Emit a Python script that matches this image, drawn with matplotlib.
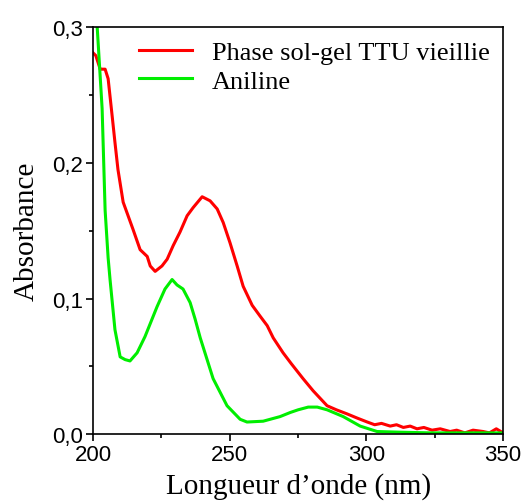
import matplotlib
matplotlib.use('Agg')
import matplotlib.pyplot as plt
from matplotlib.ticker import MultipleLocator, FuncFormatter

# spectres
wl_red = [200.0, 201.0, 202.6, 204.4, 205.5, 207.0, 208.0, 209.1, 211.0, 212.8, 214.6,
          217.2, 219.8, 220.9, 222.7, 225.2, 227.1, 229.3, 231.8, 234.4, 236.6, 239.9,
          242.8, 245.4, 247.6, 250.1, 252.7, 254.9, 258.2, 261.1, 263.7, 265.9, 269.5,
          272.5, 276.8, 280.5, 285.6, 289.0, 292.9, 296.5, 300.3, 303.0, 305.5, 308.7,
          311.0, 313.5, 316.0, 318.5, 321.0, 324.0, 327.0, 330.6, 333.0, 336.0, 339.0,
          342.7, 345.0, 347.5, 350.0]
abs_red = [0.281, 0.279, 0.269, 0.269, 0.262, 0.234, 0.215, 0.195, 0.171, 0.161, 0.151,
           0.136, 0.131, 0.124, 0.120, 0.124, 0.129, 0.139, 0.149, 0.161, 0.167, 0.175,
           0.172, 0.166, 0.156, 0.141, 0.124, 0.109, 0.095, 0.087, 0.080, 0.071, 0.060,
           0.052, 0.041, 0.032, 0.021, 0.018, 0.015, 0.012, 0.009, 0.007, 0.008, 0.006,
           0.007, 0.005, 0.006, 0.004, 0.005, 0.003, 0.004, 0.002, 0.003, 0.001, 0.003,
           0.002, 0.001, 0.004, 0.001]

wl_green = [200.0, 201.5, 203.3, 204.4, 205.5, 206.2, 208.0, 209.9, 211.7, 213.5, 216.1,
            219.0, 223.4, 226.3, 228.9, 230.7, 232.9, 235.5, 237.3, 239.2, 243.9, 249.0,
            253.8, 256.3, 262.2, 268.4, 272.1, 275.0, 278.7, 282.0, 285.6, 291.5, 297.7,
            303.9, 312.3, 323.3, 338.0, 350.0]
abs_green = [0.36, 0.300, 0.240, 0.165, 0.130, 0.114, 0.077, 0.057, 0.055, 0.054, 0.060,
             0.072, 0.094, 0.107, 0.114, 0.110, 0.107, 0.097, 0.085, 0.071, 0.041, 0.021,
             0.011, 0.009, 0.0096, 0.013, 0.016, 0.018, 0.020, 0.020, 0.018, 0.013, 0.006,
             0.002, 0.0015, 0.001, 0.001, 0.001]

fig = plt.figure(figsize=(5.23, 5.02), dpi=100)
ax = fig.add_axes([0.178, 0.133, 0.784, 0.811])

ax.plot(wl_red, abs_red, color='#ff0000', lw=2.2, label='Phase sol-gel TTU vieillie')
ax.plot(wl_green, abs_green, color='#00ee00', lw=2.2, label='Aniline')

ax.set_xlim(200, 350)
ax.set_ylim(0, 0.3)
ax.xaxis.set_major_locator(MultipleLocator(50))
ax.xaxis.set_minor_locator(MultipleLocator(25))
ax.yaxis.set_major_locator(MultipleLocator(0.1))
ax.yaxis.set_minor_locator(MultipleLocator(0.05))
ax.yaxis.set_major_formatter(FuncFormatter(lambda v, p: ('%.1f' % v).replace('.', ',')))
ax.tick_params(which='both', direction='out', top=False, right=False)
ax.tick_params(which='major', length=5, width=1.2, labelsize=16, pad=2)
ax.tick_params(which='minor', length=3, width=1.2)
for lab in ax.get_xticklabels() + ax.get_yticklabels():
    lab.set_family('Liberation Sans')
for s in ax.spines.values():
    s.set_linewidth(1.2)

ax.set_xlabel('Longueur d\u2019onde (nm)', family='Liberation Serif', fontsize=21, labelpad=5)
ax.set_ylabel('Absorbance', family='Liberation Serif', fontsize=21, labelpad=9)

ax.legend(loc='upper right', frameon=False, prop={'family': 'Liberation Serif', 'size': 19},
          handlelength=2.0, handletextpad=0.75, borderaxespad=0.3, labelspacing=0.2,
          borderpad=0.2)

fig.savefig('out.png', dpi=100)
